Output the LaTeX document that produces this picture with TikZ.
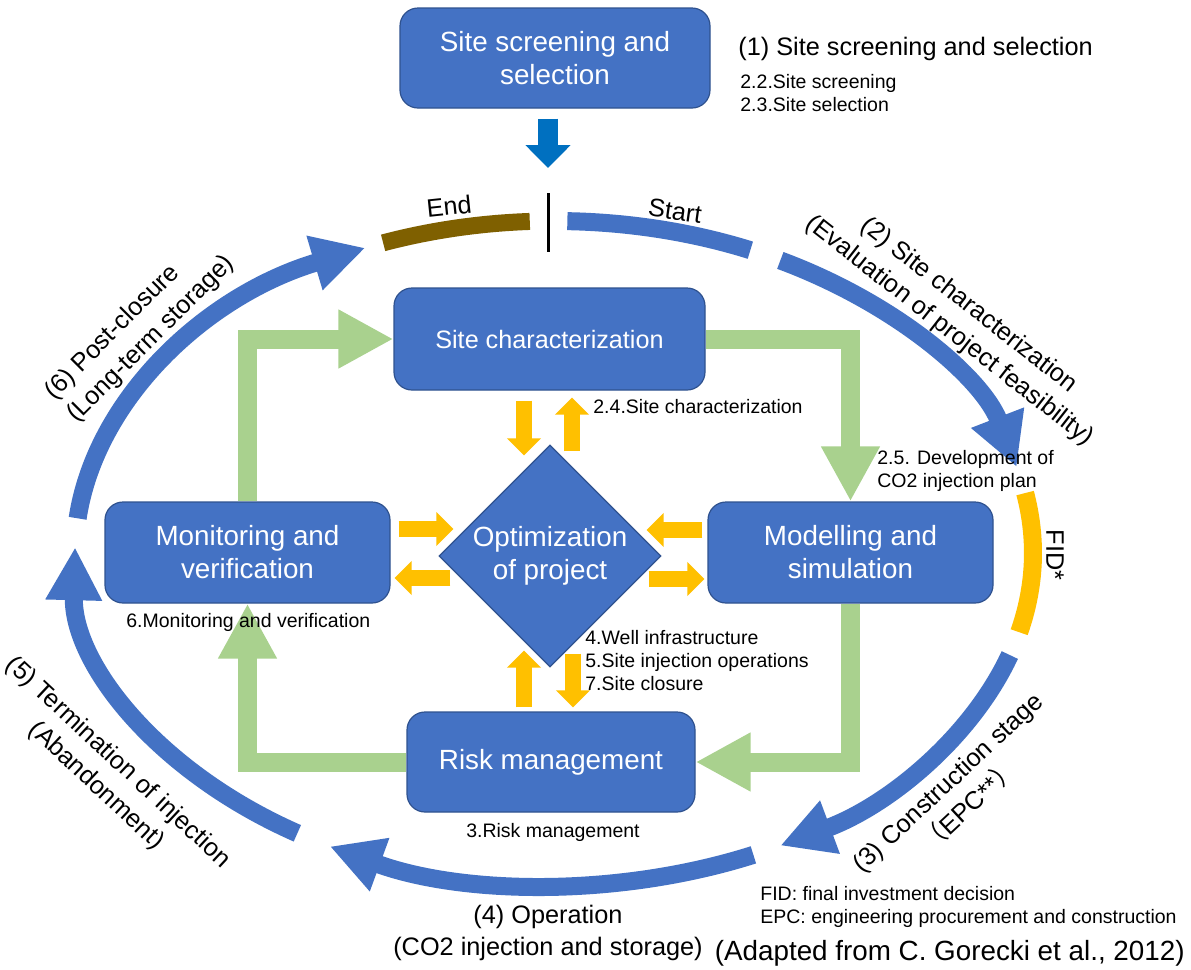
\documentclass[tikz,border=0pt]{standalone}
\usepackage{fontspec}
\setmainfont{Liberation Sans}
\newfontfamily\cjkfont{Noto Sans CJK SC}
\usetikzlibrary{arrows.meta,calc,shapes.geometric}

\definecolor{boxblue}{HTML}{4472C4}
\definecolor{boxedge}{HTML}{2F528F}
\definecolor{arcbrown}{HTML}{7F6000}
\definecolor{fidorange}{HTML}{FFC000}
\definecolor{flowgreen}{HTML}{A9D18E}
\definecolor{topblue}{HTML}{0070C0}

\newcommand\boxtextfont{\fontsize{13.9}{16.5}\selectfont}
\newcommand\sctextfont{\fontsize{12.6}{15}\selectfont}
\newcommand\arclabelfont{\fontsize{12.65}{16}\selectfont}
\newcommand\sourcefont{\fontsize{13.9}{16}\selectfont}
\newcommand\notefont{\fontsize{9.75}{11.5}\selectfont}

\begin{document}
\begin{tikzpicture}[x=0.5pt,y=-0.5pt,
  box/.style={draw=boxedge, line width=0.6pt, fill=boxblue, rounded corners=9pt,
    text=white, align=center, inner sep=0pt, font=\boxtextfont},
  flow/.style={draw=flowgreen, line width=9.5pt, line join=miter,
    -{Triangle[width=27.5pt,length=27.5pt]}},
  optarrow/.style={draw=fidorange, line width=8pt,
    -{Triangle[width=16.5pt,length=8.5pt]}},
  cyclearc/.style={draw=boxblue, line width=9pt},
  cyclearrow/.style={cyclearc, -{Triangle[width=26.5pt,length=26.5pt]}},
  arclabel/.style={font=\arclabelfont, inner sep=0pt, align=center},
  note/.style={font=\notefont, inner sep=0pt, align=left},
]
\fill[white] (0,0) rectangle (1191,970);
\useasboundingbox (0,0) rectangle (1191,970);

% centre of the life-cycle ellipse
\coordinate (C) at (554,553);

% ---- process boxes ----
\node[box, minimum width=155pt, minimum height=50pt] (screen) at (555,58) {Site screening and\\selection};
\node[box, minimum width=155.5pt, minimum height=51pt, font=\sctextfont] (sc) at (549.5,339) {Site characterization};
\node[box, minimum width=142.5pt, minimum height=50.5pt] (mon) at (247.5,552.5) {Monitoring and\\verification};
\node[box, minimum width=142.5pt, minimum height=50.5pt] (mod) at (850.5,552.5) {Modelling and\\simulation};
\node[box, minimum width=144pt, minimum height=50pt] (risk) at (551,762) {Risk management};
\node[diamond, draw=boxedge, line width=0.6pt, fill=boxblue, text=white, minimum size=111pt,
  inner sep=0pt, aspect=1, align=center, font=\boxtextfont] (opt) at (550,556) {Optimization\\of project};

% ---- green process loop ----
\draw[flow] (mon.north) |- (sc.west);
\draw[flow] (sc.east) -| (mod.north);
\draw[flow] (mod.south) |- (risk.east);
\draw[flow] (risk.west) -| (mon.south);

% ---- exchanges with the optimization step ----
\draw[optarrow] ($(sc.south)+(-25.5,10)$) -- ($(opt.north)+(-26,11)$);
\draw[optarrow] ($(opt.north)+(22,7)$) -- ($(sc.south)+(22.5,7)$);
\draw[optarrow] ($(mon.east)+(8,-23.5)$) -- ($(opt.west)+(15,-27)$);
\draw[optarrow] ($(opt.west)+(12,22)$) -- ($(mon.east)+(4,25.5)$);
\draw[optarrow] ($(mod.west)+(-5,-22.5)$) -- ($(opt.east)+(-15,-26)$);
\draw[optarrow] ($(opt.east)+(-13,23)$) -- ($(mod.west)+(-3,26.5)$);
\draw[optarrow] ($(risk.north)+(-27,-4)$) -- ($(opt.south)+(-26,-17)$);
\draw[optarrow] ($(opt.south)+(23,-14)$) -- ($(risk.north)+(22,-4)$);

% ---- life-cycle ellipse ----
\draw[cyclearc] ($(C)+(271.6:479 and 332)$) arc[start angle=271.6, end angle=294.2, x radius=479, y radius=332];
\draw[cyclearrow] ($(C)+(298.2:479 and 332)$) arc[start angle=298.2, end angle=345, x radius=479, y radius=332];
\draw[draw=fidorange, line width=9pt] ($(C)+(-10.4:479 and 332)$) arc[start angle=-10.4, end angle=13.8, x radius=479, y radius=332];
\draw[cyclearrow] ($(C)+(17.9:479 and 332)$) arc[start angle=17.9, end angle=61.8, x radius=479, y radius=332];
\draw[cyclearrow] ($(C)+(65.4:479 and 332)$) arc[start angle=65.4, end angle=117.9, x radius=479, y radius=332];
\draw[cyclearrow] ($(C)+(122.4:479 and 332)$) arc[start angle=122.4, end angle=181, x radius=479, y radius=332];
\draw[cyclearrow] ($(C)+(186:479 and 332)$) arc[start angle=186, end angle=246.8, x radius=479, y radius=332];
\draw[draw=arcbrown, line width=8.5pt] ($(C)+(249.1:479 and 332)$) arc[start angle=249.1, end angle=267.1, x radius=479, y radius=332];

% start / end marker and entry arrow
\coordinate (marktop) at (548,193);
\coordinate (markbot) at (548,252);
\draw[line width=1.5pt] (marktop) -- (markbot);
\draw[draw=topblue, line width=10pt, -{Triangle[width=22pt,length=11.5pt]}]
  ($(screen.south)+(-7,10)$) -- ($(marktop)+(0,-25)$);

% ---- labels on the cycle ----
\node[arclabel, rotate=6] (lend) at (449,206) {End};
\node[arclabel, rotate=-8] (lstart) at (675,211) {Start};
\node[arclabel, rotate=-38] (l2) at (959,318.5) {(2) Site characterization\\(Evaluation of project feasibility)};
\node[arclabel, rotate=-90] (lfid) at (1055,555) {FID*};
\node[arclabel, rotate=43] (l3) at (959,794.5) {(3) Construction stage\\{\cjkfont （}EPC**{\cjkfont ）}};
\node[arclabel] (l4) at (548,932.5) {(4) Operation\\(CO2 injection and storage)};
\node[arclabel, rotate=-43] (l5) at (107,774.5) {(5) Termination of injection\\(Abandonment)};
\node[arclabel, rotate=45, align=left] (l6) at (140,328) {(6) Post-closure\\(Long-term storage)};
\node[arclabel, anchor=west] (l1) at (738,49) {(1) Site screening and selection};

% ---- section notes ----
\node[note, anchor=west] (n22) at (740,93.5) {2.2.Site screening\\2.3.Site selection};
\node[note, anchor=west] (n24) at (593,407) {2.4.Site characterization};
\node[note, anchor=west] (n25) at (877,470.5) {2.5. Development of\\CO2 injection plan};
\node[note, anchor=west] (n4) at (585,661) {4.Well infrastructure\\5.Site injection operations\\7.Site closure};
\node[note, anchor=west] (n6) at (126,622) {6.Monitoring and verification};
\node[note] (n3) at (553,832) {3.Risk management};
\node[note, anchor=west] (nfid) at (760,906.5) {FID: final investment decision\\EPC: engineering procurement and construction};
\node[font=\sourcefont, inner sep=0pt, anchor=east] (src) at (1185,953) {(Adapted from C. Gorecki et al., 2012)};
\end{tikzpicture}
\end{document}
